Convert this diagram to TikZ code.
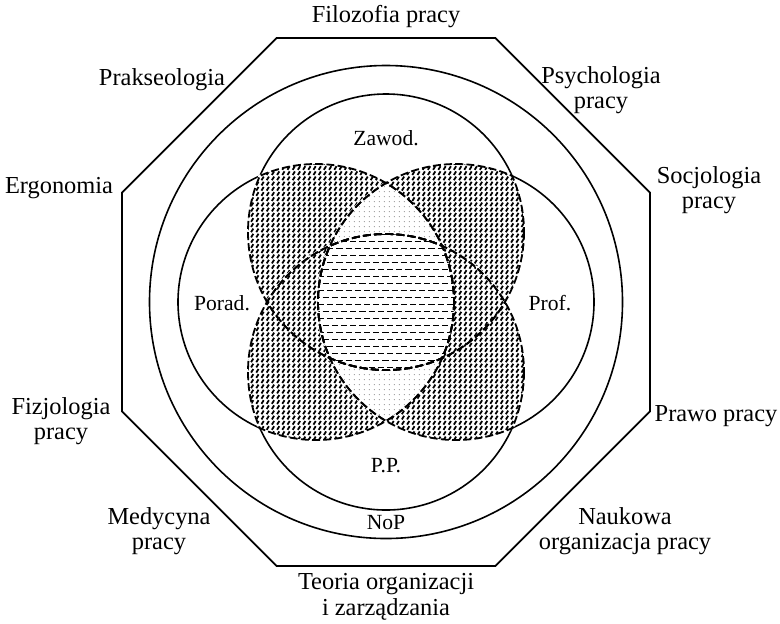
\documentclass[tikz,border=0pt]{standalone}
\usepackage{fontspec}
\setmainfont{Liberation Serif}
\usepackage{tikz}
\usetikzlibrary{patterns}

% ── Fill patterns ───────────────────────────────────────────────────────
\pgfdeclarepatternformonly{slantdash}{\pgfqpoint{-0.5pt}{-0.5pt}}{\pgfqpoint{3.2pt}{3.2pt}}{\pgfqpoint{2.6pt}{2.6pt}}{
    \pgfsetlinewidth{0.9pt}
    \pgfpathmoveto{\pgfqpoint{0.75pt}{0.4pt}}
    \pgfpathlineto{\pgfqpoint{1.85pt}{2.2pt}}
    \pgfusepath{stroke}
}
\pgfdeclarepatternformonly{flatdash}{\pgfqpoint{-0.5pt}{-0.5pt}}{\pgfqpoint{6.5pt}{7.5pt}}{\pgfqpoint{4.6pt}{7pt}}{
    \pgfsetlinewidth{0.9pt}
    \pgfpathmoveto{\pgfqpoint{0.3pt}{1.75pt}}
    \pgfpathlineto{\pgfqpoint{3.4pt}{1.75pt}}
    \pgfpathmoveto{\pgfqpoint{2.6pt}{5.25pt}}
    \pgfpathlineto{\pgfqpoint{5.7pt}{5.25pt}}
    \pgfusepath{stroke}
}
\pgfdeclarepatternformonly{finedots}{\pgfqpoint{0pt}{0pt}}{\pgfqpoint{2.6pt}{2.6pt}}{\pgfqpoint{2.6pt}{2.6pt}}{
    \pgfpathcircle{\pgfqpoint{1.3pt}{1.3pt}}{0.26pt}
    \pgfusepath{fill}
}

\tikzset{
    frame/.style={line width=0.9pt},
    ring/.style={line width=0.8pt},
    lobeline/.style={line width=0.9pt, dash pattern=on 4pt off 1.6pt},
    fieldlabel/.style={font=\fontsize{12.2}{12.8}\selectfont, align=center, inner sep=0pt},
    zonelabel/.style={font=\fontsize{10.8}{12}\selectfont, inner sep=0pt},
}

\begin{document}
\begin{tikzpicture}[x=0.5pt, y=-0.5pt]

    \useasboundingbox (0,0) rectangle (780,623);
    \def\rr{138}

    % ── Centres ─────────────────────────────────────────────────────────
    \coordinate (O)     at (386,302);
    \coordinate (zawod) at (386,232);
    \coordinate (porad) at (316,302);
    \coordinate (prof)  at (456,302);
    \coordinate (pp)    at (386,372);

    % ── Octagon ─────────────────────────────────────────────────────────
    \draw[frame] (O) +(22.5:285.8)
        foreach \a in {67.5,112.5,...,337.5} { -- +(\a:285.8) } -- cycle;

    % ── NoP and the four fields ────────────────────────────────────────
    \draw[ring] (O) circle[radius=236.5];
    \foreach \c in {zawod,porad,prof,pp}
        \draw[ring] (\c) circle[radius=\rr];

    % ── Two-field overlaps ───────────────────────────────────────────────
    \foreach \a/\b in {zawod/porad, zawod/prof, pp/porad, pp/prof} {
        \begin{scope}
            \clip (\a) circle[radius=\rr+1.5];
            \clip (\b) circle[radius=\rr+1.5];
            \fill[white] (O) circle[radius=240];
        \end{scope}
        \begin{scope}
            \clip (\a) circle[radius=\rr];
            \clip (\b) circle[radius=\rr];
            \fill[pattern=slantdash] (O) circle[radius=240];
        \end{scope}
    }

    % ── Three-field overlaps (top and bottom) ───────────────────────────
    \foreach \a/\b in {zawod/pp, pp/zawod} {
        \begin{scope}
            \clip (porad) circle[radius=\rr];
            \clip (prof) circle[radius=\rr];
            \clip (\a) circle[radius=\rr];
            \fill[white, even odd rule] (O) circle[radius=240] (\b) circle[radius=\rr];
            \fill[pattern=finedots, even odd rule] (O) circle[radius=240] (\b) circle[radius=\rr];
        \end{scope}
    }

    % ── Common core ─────────────────────────────────────────────────────
    \begin{scope}
        \clip (zawod) circle[radius=\rr];
        \clip (porad) circle[radius=\rr];
        \clip (prof) circle[radius=\rr];
        \clip (pp) circle[radius=\rr];
        \fill[white] (O) circle[radius=240];
        \fill[pattern=flatdash] (O) circle[radius=240];
    \end{scope}

    % ── Dashed borders inside the overlaps ──────────────────────────────
    \foreach \a/\b in {zawod/porad, zawod/prof, pp/porad, pp/prof} {
        \begin{scope}
            \clip (\a) circle[radius=\rr+1.5];
            \clip (\b) circle[radius=\rr+1.5];
            \foreach \c in {zawod,porad,prof,pp}
                \draw[lobeline] (\c) circle[radius=\rr];
        \end{scope}
    }

    % ── Inner labels ────────────────────────────────────────────────────
    \node[zonelabel] (lzawod) at (386,138) {Zawod.};
    \node[zonelabel] (lporad) at (222,303) {Porad.};
    \node[zonelabel] (lprof)  at (550,303) {Prof.};
    \node[zonelabel] (lpp)    at (386,466) {P.P.};
    \node[zonelabel] (lnop)   at (386,523) {NoP};

    % ── Outer labels ────────────────────────────────────────────────────
    \node[fieldlabel] (filoz)  at (386,17)  {Filozofia pracy};
    \node[fieldlabel] (praks)  at (162,80)  {Prakseologia};
    \node[fieldlabel] (psych)  at (601,90)  {Psychologia\\pracy};
    \node[fieldlabel] (ergo)   at (59,188)  {Ergonomia};
    \node[fieldlabel] (socjo)  at (709,190) {Socjologia\\pracy};
    \node[fieldlabel] (fizjo)  at (61,421)  {Fizjologia\\pracy};
    \node[fieldlabel] (prawo)  at (716,416) {Prawo pracy};
    \node[fieldlabel] (medyc)  at (159,531) {Medycyna\\pracy};
    \node[fieldlabel] (nauk)   at (625,531) {Naukowa\\organizacja pracy};
    \node[fieldlabel] (teoria) at (386,597) {Teoria organizacji\\i zarządzania};

\end{tikzpicture}
\end{document}
